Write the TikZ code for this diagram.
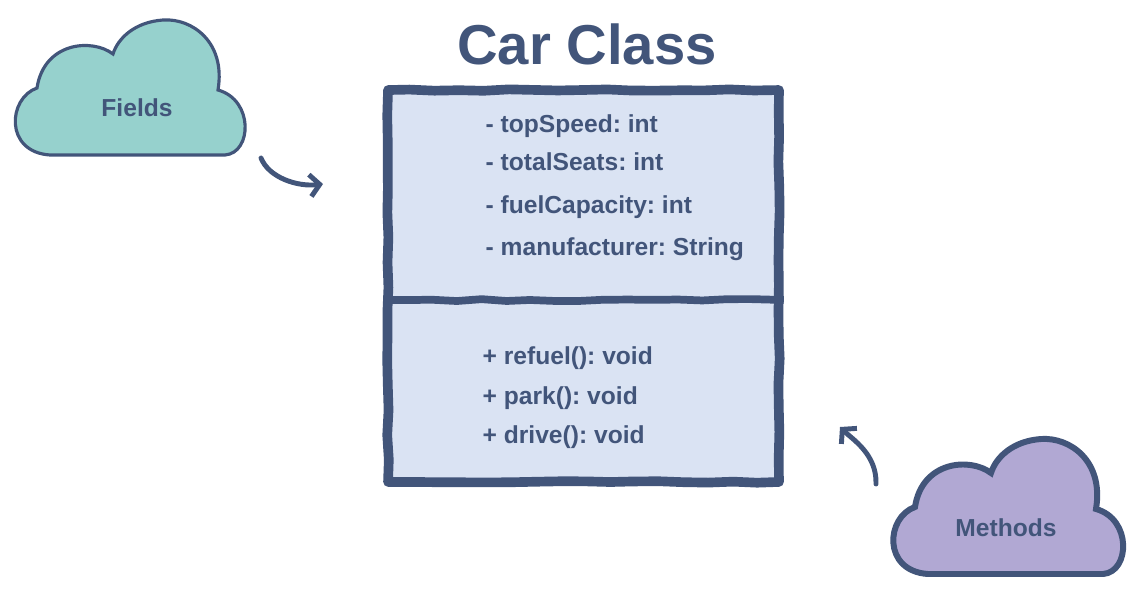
\documentclass[tikz,border=0pt]{standalone}
\usepackage{fontspec}
\setmainfont{Liberation Sans}
\usepackage{xcolor}
\usepackage{tikz}
\usetikzlibrary{arrows.meta,positioning,calc,decorations.pathmorphing}
\frenchspacing

\definecolor{inkblue}{RGB}{66,85,122}
\definecolor{boxfill}{RGB}{218,227,243}
\definecolor{tealcloud}{RGB}{150,209,205}
\definecolor{lilaccloud}{RGB}{177,168,211}

% outline of a cloud, in pixel coordinates
\newcommand{\cloudoutline}{(50,155) -- (225,155)
  .. controls (252,153) and (254,100) .. (218,90)
  .. controls (226,42) and (192,18) .. (163,20)
  .. controls (135,22) and (118,38) .. (113,54)
  .. controls (92,38) and (44,42) .. (37,88)
  .. controls (8,98) and (4,152) .. (50,155) -- cycle}

\begin{document}
\begin{tikzpicture}[x=0.02cm, y=-0.02cm, thick]
\pgfmathsetseed{11}
% Define styles
\tikzstyle{classbox} = [draw=inkblue, fill=boxfill, line width=5.5pt, line join=round, minimum width=7.82cm, minimum height=7.84cm, decorate, decoration={random steps, segment length=14pt, amplitude=0.5pt}]
\tikzstyle{divider} = [draw=inkblue, line width=4.4pt, decorate, decoration={random steps, segment length=14pt, amplitude=0.6pt}]
\tikzstyle{member} = [text=inkblue, font=\fontsize{14}{17}\selectfont\bfseries, anchor=base west, inner sep=0pt]
\tikzstyle{cloudlabel} = [text=inkblue, font=\fontsize{14}{17}\selectfont\bfseries, inner sep=0pt]
\tikzstyle{sketcharrow} = [draw=inkblue, line width=2.8pt, line cap=round, -{Straight Barb[length=5.5pt, width=12.5pt, line width=2.8pt]}]

\fill[white] (0,0) rectangle (1142,592);
\useasboundingbox (0,0) rectangle (1142,592);

% Title
\node [text=inkblue, font=\fontsize{32}{38}\selectfont\bfseries, anchor=base, inner sep=0pt] (title) at (587,64) {Car Class};

% Class box and its divider
\node [classbox] (carclass) at (583.5,286) {};
\coordinate (split) at (583.5,300);
\draw [divider] (carclass.west |- split) -- (carclass.east |- split);

% Fields
\node [member] (topspeed) at (485,132) {- topSpeed: int};
\node [member] (totalseats) at (485,170) {- totalSeats: int};
\node [member] (fuelcap) at (485,213) {- fuelCapacity: int};
\node [member] (maker) at (485,255) {- manufacturer: String};

% Methods
\node [member] (refuel) at (482,364) {+ refuel(): void};
\node [member] (park) at (482,404) {+ park(): void};
\node [member] (drive) at (482,443) {+ drive(): void};

% Clouds
\draw [draw=inkblue, fill=tealcloud, line width=1.8pt] \cloudoutline;
\draw [draw=inkblue, fill=lilaccloud, line width=3.4pt, shift={(878,419)}] \cloudoutline;
\node [cloudlabel] (fields) at (137,108) {Fields};
\node [cloudlabel] (methods) at (1006,528) {Methods};

% Arrows
\coordinate (fieldstail) at (261,158);
\coordinate (fieldstip) at (323,184);
\coordinate (methodstail) at (876,484);
\coordinate (methodstip) at (840,427);
\path [sketcharrow] (fieldstail) .. controls +(8,20) and +(-25,3) .. (fieldstip);
\path [sketcharrow] (methodstail) .. controls +(1,-30) and +(12,12) .. (methodstip);

\end{tikzpicture}
\end{document}
